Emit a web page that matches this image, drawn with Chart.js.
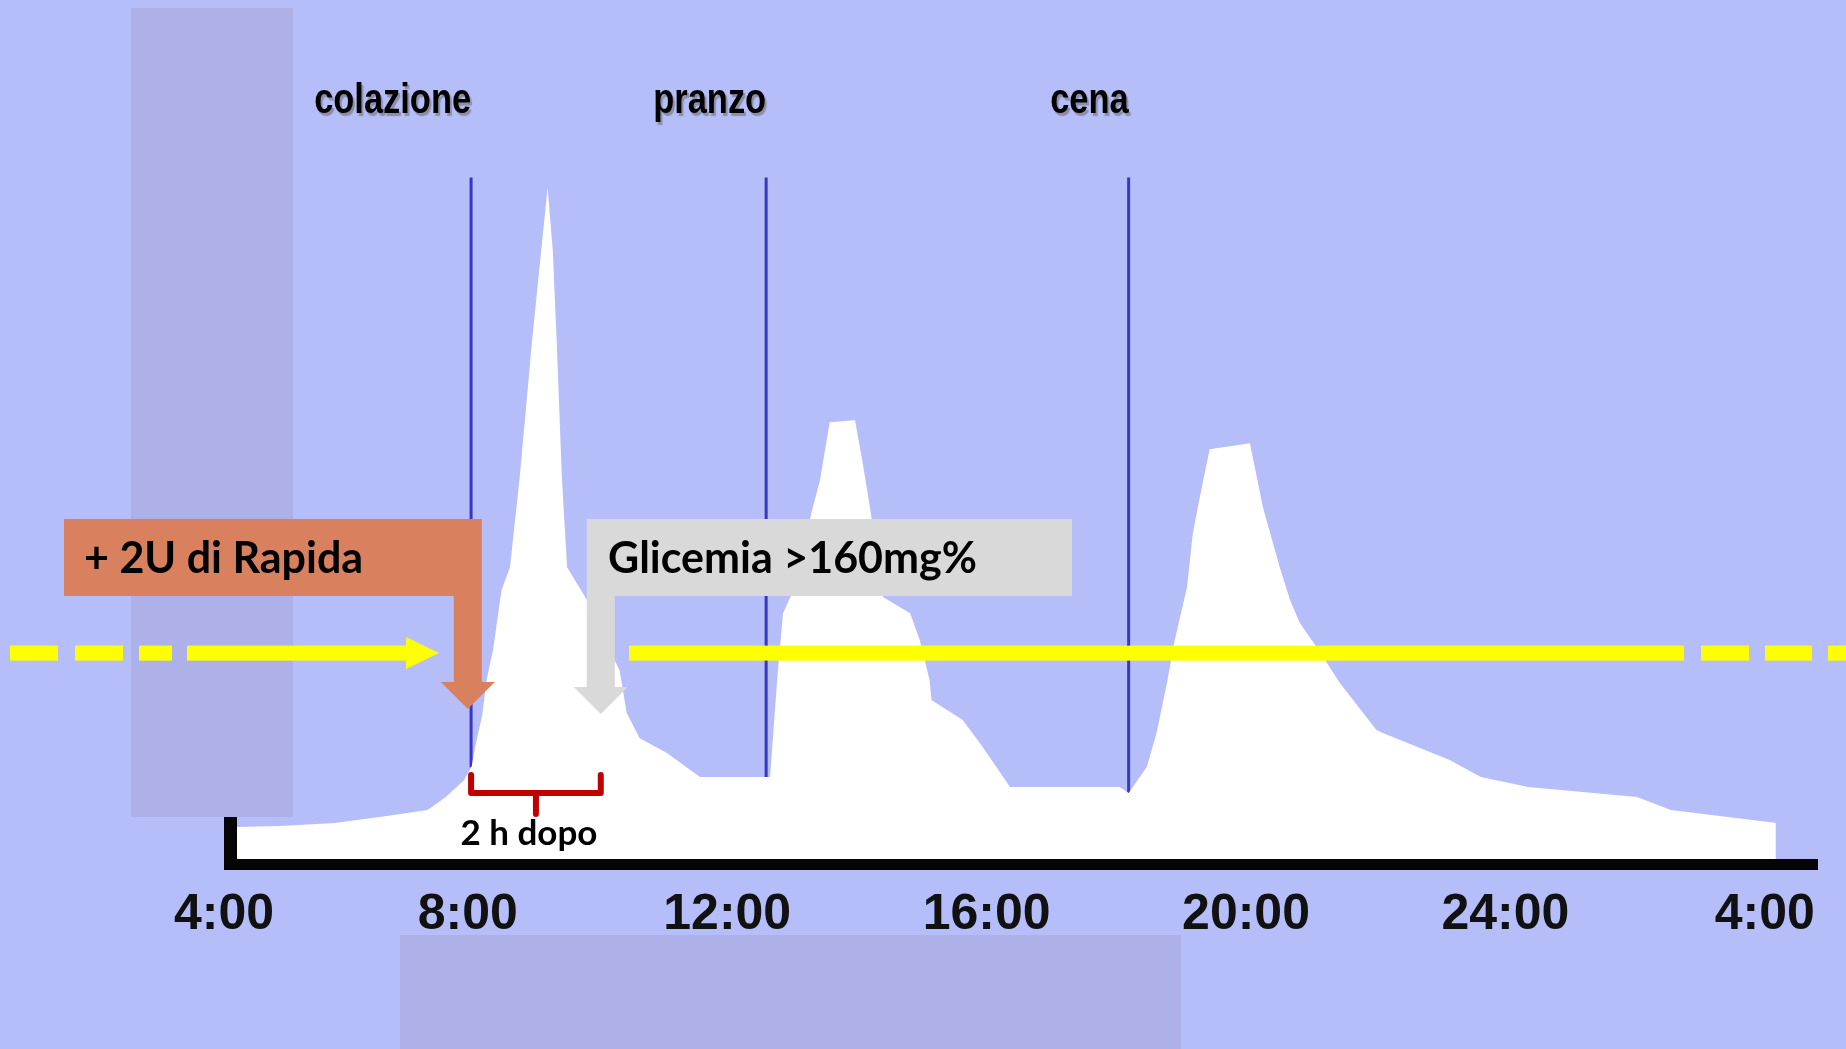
<!DOCTYPE html>
<html lang="it">
<head>
<meta charset="utf-8">
<title>Glicemia nelle 24 ore</title>
<script src="https://cdn.jsdelivr.net/npm/chart.js@4.4.1/dist/chart.umd.min.js"></script>
<style>
  html, body { margin: 0; padding: 0; background: #b6befa; overflow: hidden; }
  #chart { display: block; }
</style>
</head>
<body>
<canvas id="chart" width="1846" height="1049"></canvas>
<script>
// Glucose profile over 24 h (hour of day, 4:00 → 4:00 next day; mg/dL)
const hours = [
  4.24, 4.44, 5.10, 5.95, 6.75, 7.38, 7.66, 7.94, 8.06, 8.11,
  8.22, 8.29, 8.39, 8.52, 8.65, 8.80, 8.99, 9.23, 9.31, 9.37,
  9.45, 9.53, 9.83, 10.11, 10.34, 10.45, 10.65, 11.07, 11.58, 12.55,
  12.66, 12.77, 12.86, 13.00, 13.32, 13.43, 13.58, 13.97, 14.09, 14.20,
  14.40, 14.82, 14.97, 15.12, 15.15, 15.63, 15.94, 16.36, 17.44, 18.05,
  18.19, 18.47, 18.62, 18.78, 18.90, 19.09, 19.18, 19.33, 19.44, 20.06,
  20.26, 20.52, 20.68, 20.83, 21.09, 21.45, 22.01, 22.11, 23.14, 23.62,
  24.35, 26.03, 26.55, 28.09, 28.17, 28.17
];
const glucose = [
  76.0, 75.5, 76.0, 77.5, 80.9, 83.8, 90.1, 98.3, 105.1, 113.9,
  129.4, 146.9, 161.9, 190.6, 201.7, 245.4, 311.5, 386.2, 355.6, 311.5,
  245.4, 201.7, 186.2, 166.3, 151.7, 130.9, 118.7, 111.5, 99.8, 99.8,
  99.8, 146.9, 179.4, 189.1, 230.9, 244.0, 272.1, 273.1, 252.2, 230.9,
  187.2, 179.4, 166.3, 146.9, 137.2, 127.5, 114.4, 95.0, 95.0, 95.0,
  92.0, 104.7, 121.2, 145.4, 166.3, 192.0, 218.3, 242.5, 259.0, 261.9,
  230.9, 201.7, 185.7, 174.6, 162.9, 145.4, 122.6, 121.2, 108.1, 99.8,
  95.0, 90.1, 83.8, 77.8, 77.5, 60.0
];

// Time axis ticks
const tickHours  = [4, 8, 12, 16, 20, 24, 28];
const tickLabels = ['4:00', '8:00', '12:00', '16:00', '20:00', '24:00', '4:00'];

// Meals
const mealNames = ['colazione', 'pranzo', 'cena'];
const mealHours = [8.05, 12.6, 18.19];
const mealMarkerTop = 391;

// Threshold and annotations
const threshold = 160;            // mg/dL
const insulinHour = 8.0;          // extra rapid insulin at breakfast
const checkDelay = 2;             // hours after breakfast
const insulinText = '+ 2U di Rapida';
const checkText = 'Glicemia >160mg%';
const delayText = '2 h dopo';

const yMin = 60, yMax = 400;
const xMin = 4.24, xMax = 28.82;

function glucoseAt(h) {
  for (let i = 1; i < hours.length; i++) {
    if (h <= hours[i]) {
      const t = (h - hours[i - 1]) / (hours[i] - hours[i - 1] || 1);
      return glucose[i - 1] + t * (glucose[i] - glucose[i - 1]);
    }
  }
  return glucose[glucose.length - 1];
}

const curve = hours.map((h, i) => ({ x: h, y: glucose[i] }));
const mealLines = mealHours.map(h => ({
  data: [{ x: h, y: mealMarkerTop }, { x: h, y: glucoseAt(h) }],
  borderColor: '#3737c4',
  borderWidth: 3,
  pointRadius: 0,
  fill: false
}));

const COLORS = {
  background: '#b6befa',
  shade: '#adb1e8',
  yellow: '#ffff00',
  orange: '#d9805f',
  grey: '#d9d9d9',
  red: '#c00000',
  ink: '#000000'
};

const decor = {
  id: 'decor',
  beforeDraw(chart) {
    const ctx = chart.ctx;
    ctx.save();
    ctx.fillStyle = COLORS.background;
    ctx.fillRect(0, 0, chart.width, chart.height);
    ctx.restore();
  },
  afterDatasetsDraw(chart) {
    const ctx = chart.ctx;
    const a = chart.chartArea;
    ctx.save();
    // black L-shaped axes
    ctx.fillStyle = '#050505';
    ctx.fillRect(a.left, a.bottom, a.right - a.left, 11);
    ctx.fillRect(a.left, a.top, 13, a.bottom - a.top + 11);
    // shaded panels
    ctx.fillStyle = COLORS.shade;
    ctx.fillRect(131, 8, 162, 809);
    ctx.fillRect(400, 935, 781, 114);
    ctx.restore();
  },
  afterDraw(chart) {
    const ctx = chart.ctx;
    const xs = chart.scales.x, ys = chart.scales.y;
    const yT = ys.getPixelForValue(threshold);
    ctx.save();

    // threshold line (dashed ends, arrow on the left)
    ctx.fillStyle = COLORS.yellow;
    const half = 7.5;
    [[10, 58], [75, 123], [139, 172], [187, 407], [629, 1684], [1701, 1749], [1765, 1812], [1828, 1846]]
      .forEach(([x0, x1]) => ctx.fillRect(x0, yT - half, x1 - x0, half * 2));
    ctx.beginPath();
    ctx.moveTo(406, yT - 16);
    ctx.lineTo(439, yT);
    ctx.lineTo(406, yT + 16);
    ctx.closePath();
    ctx.fill();

    // callouts
    const boxTop = 519, boxBottom = 596, stemHalf = 14, headHalf = 27, headLen = 27;
    const xIns = xs.getPixelForValue(insulinHour);
    const xChk = xs.getPixelForValue(mealHours[0] + checkDelay);

    const insStemEnd = 682;
    ctx.fillStyle = COLORS.orange;
    ctx.beginPath();
    ctx.moveTo(64, boxTop);
    ctx.lineTo(xIns + stemHalf, boxTop);
    ctx.lineTo(xIns + stemHalf, insStemEnd);
    ctx.lineTo(xIns + headHalf, insStemEnd);
    ctx.lineTo(xIns, insStemEnd + headLen);
    ctx.lineTo(xIns - headHalf, insStemEnd);
    ctx.lineTo(xIns - stemHalf, insStemEnd);
    ctx.lineTo(xIns - stemHalf, boxBottom);
    ctx.lineTo(64, boxBottom);
    ctx.closePath();
    ctx.fill();

    const chkStemEnd = 687;
    ctx.fillStyle = COLORS.grey;
    ctx.beginPath();
    ctx.moveTo(xChk - stemHalf, boxTop);
    ctx.lineTo(1072, boxTop);
    ctx.lineTo(1072, boxBottom);
    ctx.lineTo(xChk + stemHalf, boxBottom);
    ctx.lineTo(xChk + stemHalf, chkStemEnd);
    ctx.lineTo(xChk + headHalf, chkStemEnd);
    ctx.lineTo(xChk, chkStemEnd + headLen);
    ctx.lineTo(xChk - headHalf, chkStemEnd);
    ctx.lineTo(xChk - stemHalf, chkStemEnd);
    ctx.closePath();
    ctx.fill();

    ctx.fillStyle = COLORS.ink;
    ctx.textBaseline = 'alphabetic';
    ctx.textAlign = 'left';
    ctx.font = 'bold 43px Lato, "Open Sans", sans-serif';
    ctx.fillText(insulinText, 84, 573);
    ctx.fillText(checkText, 608, 573);

    // "2 h dopo" brace
    const bL = xs.getPixelForValue(mealHours[0]);
    const bR = xs.getPixelForValue(mealHours[0] + checkDelay);
    const bMid = (bL + bR) / 2;
    ctx.strokeStyle = COLORS.red;
    ctx.lineWidth = 6;
    ctx.lineJoin = 'round';
    ctx.lineCap = 'round';
    ctx.beginPath();
    ctx.moveTo(bL, 775);
    ctx.lineTo(bL, 793);
    ctx.lineTo(bR, 793);
    ctx.lineTo(bR, 775);
    ctx.moveTo(bMid, 793);
    ctx.lineTo(bMid, 814);
    ctx.stroke();

    ctx.fillStyle = COLORS.ink;
    ctx.textAlign = 'center';
    ctx.font = 'bold 35px Lato, "Open Sans", sans-serif';
    ctx.fillText(delayText, bMid - 7, 845);

    // meal labels, narrow bold with a soft drop shadow
    ctx.font = 'bold 42px "Liberation Sans", Arial, sans-serif';
    ctx.textAlign = 'right';
    ctx.shadowColor = 'rgba(110,110,110,0.6)';
    ctx.shadowOffsetX = 2;
    ctx.shadowOffsetY = 3;
    ctx.shadowBlur = 1;
    mealHours.forEach((h, i) => {
      ctx.save();
      ctx.translate(xs.getPixelForValue(h), 113);
      ctx.scale(0.82, 1);
      ctx.fillText(mealNames[i], 0, 0);
      ctx.restore();
    });
    ctx.restore();
  }
};

new Chart(document.getElementById('chart'), {
  type: 'line',
  data: {
    datasets: [
      {
        data: curve,
        borderWidth: 0,
        borderColor: 'rgba(0,0,0,0)',
        backgroundColor: '#ffffff',
        pointRadius: 0,
        tension: 0,
        fill: 'start'
      },
      ...mealLines
    ]
  },
  options: {
    responsive: false,
    animation: false,
    devicePixelRatio: 1,
    layout: { padding: { left: 224, right: 28, top: 159, bottom: 0 } },
    plugins: { legend: { display: false }, tooltip: { enabled: false } },
    scales: {
      x: {
        type: 'linear',
        min: xMin,
        max: xMax,
        grid: { display: false, drawTicks: false },
        border: { display: false },
        afterBuildTicks(scale) {
          scale.ticks = tickHours.map(v => ({ value: Math.max(v, scale.min) }));
        },
        afterFit(scale) { scale.height = 190; },
        ticks: {
          autoSkip: false,
          maxRotation: 0,
          padding: 26,
          color: '#111111',
          font: { family: '"Liberation Sans", Arial, sans-serif', weight: 'bold', size: 50 },
          callback: (value, index) => tickLabels[index]
        }
      },
      y: { min: yMin, max: yMax, display: false }
    }
  },
  plugins: [decor]
});
</script>
</body>
</html>
